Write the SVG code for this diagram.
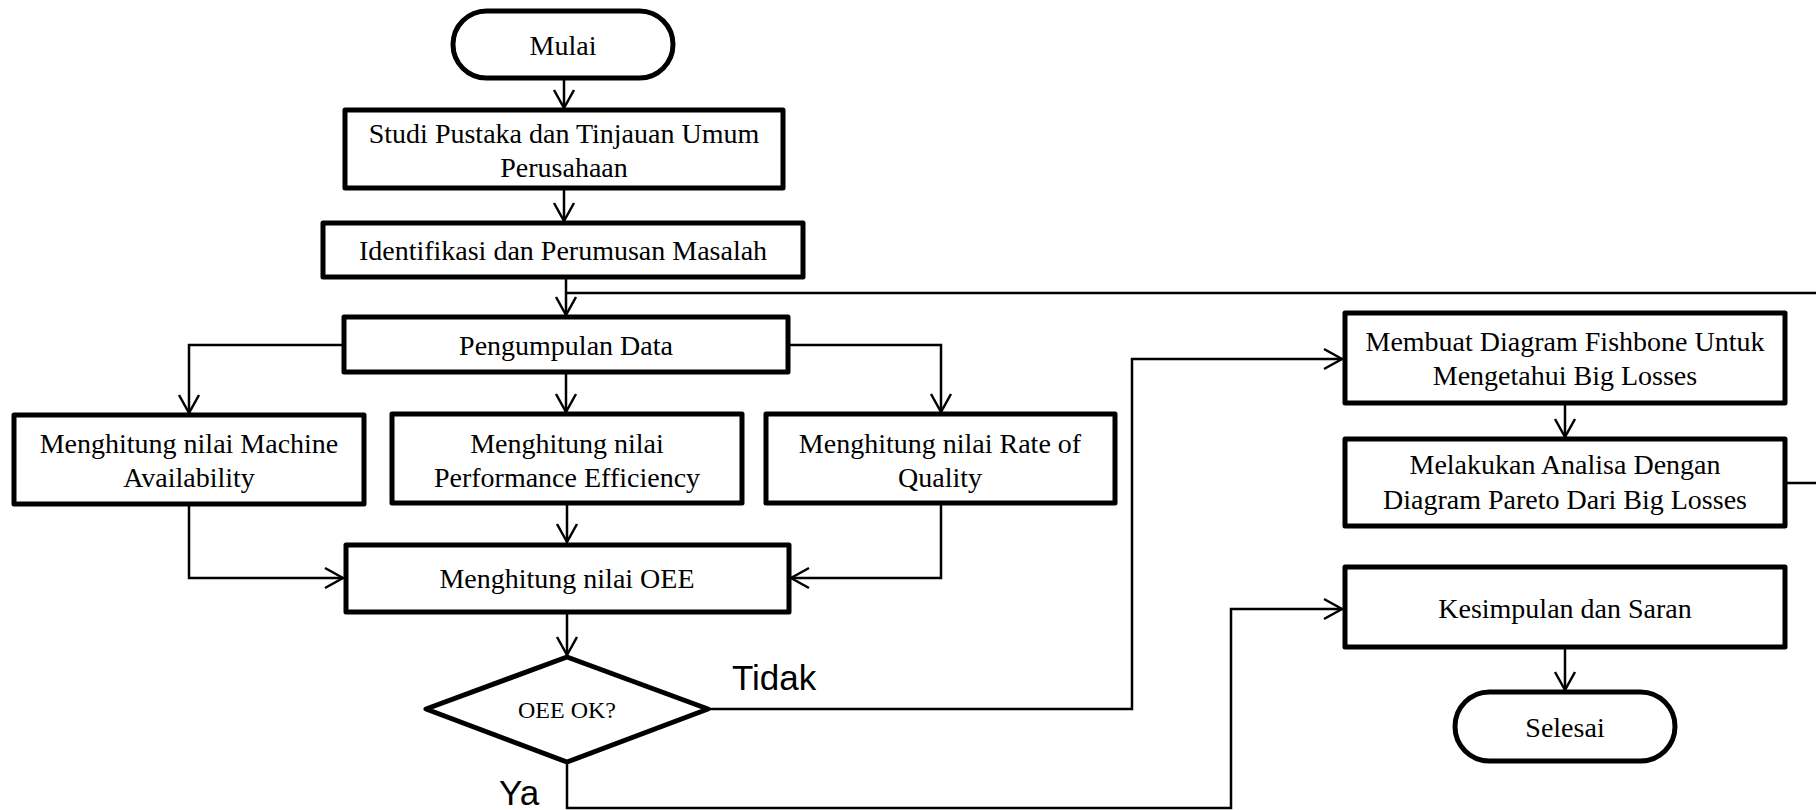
<svg xmlns="http://www.w3.org/2000/svg" width="1816" height="810" viewBox="0 0 1816 810">
<style>
.box{fill:#fff;stroke:#000;stroke-width:5;stroke-linejoin:round}
.t{font-family:"Liberation Serif","Times New Roman",serif;font-size:28px;fill:#000;text-anchor:middle}
.s{font-family:"Liberation Sans",Arial,sans-serif;font-size:35px;fill:#000}
.c{fill:none;stroke:#000;stroke-width:2.5}
</style>
<defs>
<marker id="arr" markerUnits="userSpaceOnUse" orient="auto" overflow="visible" refX="0" refY="0" markerWidth="1" markerHeight="1">
<path d="M-18,-10 L0,0 L-18,10" fill="none" stroke="#000" stroke-width="2.5"/>
</marker>
</defs>
<rect width="1816" height="810" fill="#fff"/>
<g id="connectors">
<path class="c" d="M564,78 V108" marker-end="url(#arr)"/>
<path class="c" d="M564,188 V221" marker-end="url(#arr)"/>
<path class="c" d="M566,277 V315" marker-end="url(#arr)"/>
<path class="c" d="M1785,483 H1830 V293 H566"/>
<path class="c" d="M344,345 H189 V413" marker-end="url(#arr)"/>
<path class="c" d="M566,372 V412" marker-end="url(#arr)"/>
<path class="c" d="M788,345 H941 V412" marker-end="url(#arr)"/>
<path class="c" d="M189,504 V578 H343" marker-end="url(#arr)"/>
<path class="c" d="M567,503 V542" marker-end="url(#arr)"/>
<path class="c" d="M941,503 V578 H791" marker-end="url(#arr)"/>
<path class="c" d="M567,612 V655" marker-end="url(#arr)"/>
<path class="c" d="M708,709 H1132 V359 H1342" marker-end="url(#arr)"/>
<path class="c" d="M567,762 V808 H1231 V609 H1342" marker-end="url(#arr)"/>
<path class="c" d="M1565,403 V437" marker-end="url(#arr)"/>
<path class="c" d="M1565,647 V690" marker-end="url(#arr)"/>
</g>
<g id="mulai">
<rect class="box" x="453" y="11" width="220" height="67" rx="33.5"/>
<text class="t" x="563" y="55">Mulai</text>
</g>
<g id="studi">
<rect class="box" x="345" y="110" width="438" height="78"/>
<text class="t" x="564" y="143">Studi Pustaka dan Tinjauan Umum</text>
<text class="t" x="564" y="177">Perusahaan</text>
</g>
<g id="identifikasi">
<rect class="box" x="323" y="223" width="480" height="54"/>
<text class="t" x="563" y="260">Identifikasi dan Perumusan Masalah</text>
</g>
<g id="pengumpulan">
<rect class="box" x="344" y="317" width="444" height="55"/>
<text class="t" x="566" y="355">Pengumpulan Data</text>
</g>
<g id="machine">
<rect class="box" x="14" y="415" width="350" height="89"/>
<text class="t" x="189" y="453">Menghitung nilai Machine</text>
<text class="t" x="189" y="487">Availability</text>
</g>
<g id="performance">
<rect class="box" x="392" y="414" width="350" height="89"/>
<text class="t" x="567" y="453">Menghitung nilai</text>
<text class="t" x="567" y="487">Performance Efficiency</text>
</g>
<g id="rate">
<rect class="box" x="766" y="414" width="349" height="89"/>
<text class="t" x="940" y="453">Menghitung nilai Rate of</text>
<text class="t" x="940" y="487">Quality</text>
</g>
<g id="oee">
<rect class="box" x="346" y="545" width="443" height="67"/>
<text class="t" x="567" y="588">Menghitung nilai OEE</text>
</g>
<g id="decision">
<polygon class="box" points="567,657 708,709 567,762 426,709"/>
<text class="t" x="567" y="718" style="font-size:24px">OEE OK?</text>
</g>
<text class="s" x="732" y="690">Tidak</text>
<text class="s" x="499" y="805">Ya</text>
<g id="fishbone">
<rect class="box" x="1345" y="313" width="440" height="90"/>
<text class="t" x="1565" y="351">Membuat Diagram Fishbone Untuk</text>
<text class="t" x="1565" y="385">Mengetahui Big Losses</text>
</g>
<g id="pareto">
<rect class="box" x="1345" y="439" width="440" height="87"/>
<text class="t" x="1565" y="474">Melakukan Analisa Dengan</text>
<text class="t" x="1565" y="509">Diagram Pareto Dari Big Losses</text>
</g>
<g id="kesimpulan">
<rect class="box" x="1345" y="567" width="440" height="80"/>
<text class="t" x="1565" y="618">Kesimpulan dan Saran</text>
</g>
<g id="selesai">
<rect class="box" x="1455" y="692" width="220" height="69" rx="34.5"/>
<text class="t" x="1565" y="737">Selesai</text>
</g>
</svg>
